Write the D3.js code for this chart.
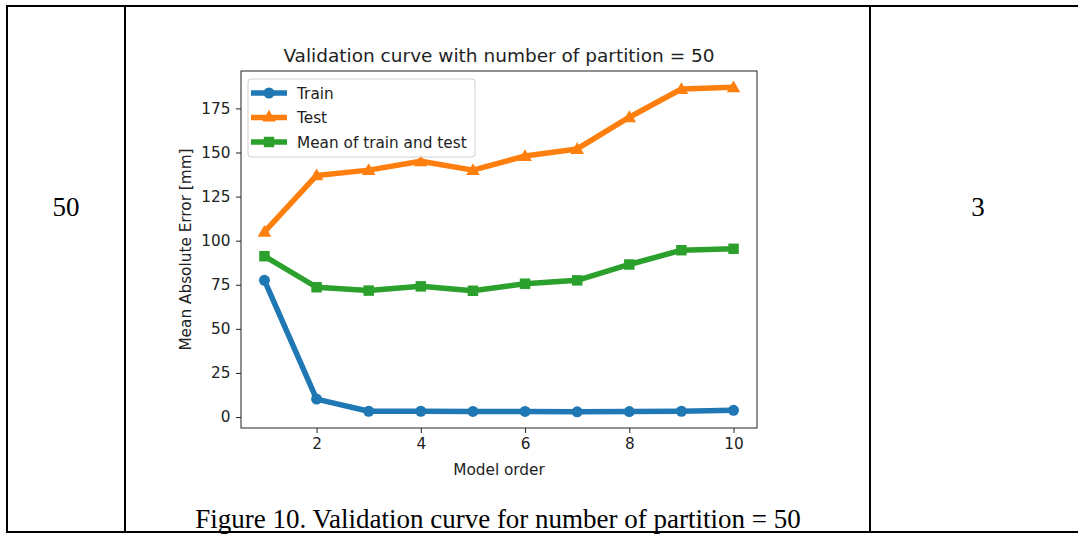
<!DOCTYPE html>
<html>
<head>
<meta charset="utf-8">
<script src="https://cdn.jsdelivr.net/npm/d3@7"></script>
<style>
  body { margin: 0; background: #fff; }
  svg { display: block; }
</style>
</head>
<body>
<script>
// chart data
const modelOrder = [1, 2, 3, 4, 5, 6, 7, 8, 9, 10];
const trainMAE = [77.5, 10.2, 3.3, 3.3, 3.2, 3.2, 3.0, 3.1, 3.3, 3.8];
const testMAE = [105, 137, 140, 145, 140, 148, 152, 170, 186, 187];
const meanMAE = [91.2, 73.6, 71.7, 74.1, 71.6, 75.6, 77.5, 86.5, 94.6, 95.4];
const xTicks = [2, 4, 6, 8, 10];
const yTicks = [0, 25, 50, 75, 100, 125, 150, 175];

const series = [
    {name: 'Train', values: trainMAE, color: '#1f77b4', marker: 'circle'},
    {name: 'Test', values: testMAE, color: '#ff7f0e', marker: 'triangle'},
    {name: 'Mean of train and test', values: meanMAE, color: '#2ca02c', marker: 'square'}
];

const W = 1078, H = 534;
const svg = d3.select('body').append('svg').attr('width', W).attr('height', H);

// table around the figure
const table = svg.append('g').attr('stroke', '#000').attr('stroke-width', 2);
table.append('line').attr('x1', 6).attr('x2', W).attr('y1', 6).attr('y2', 6);
table.append('line').attr('x1', 6).attr('x2', W).attr('y1', 532).attr('y2', 532);
[7, 125, 870].forEach(x => {
    table.append('line').attr('x1', x).attr('x2', x).attr('y1', 5).attr('y2', 533);
});

const serif = '"Liberation Serif", "Times New Roman", serif';
svg.append('text').attr('x', 66).attr('y', 216).attr('text-anchor', 'middle')
    .style('font-family', serif).style('font-size', '27px').text('50');
svg.append('text').attr('x', 978).attr('y', 216).attr('text-anchor', 'middle')
    .style('font-family', serif).style('font-size', '27px').text('3');
svg.append('text').attr('x', 498).attr('y', 528).attr('text-anchor', 'middle')
    .style('font-family', serif).style('font-size', '27px')
    .text('Figure 10. Validation curve for number of partition = 50');

// plot area
const pLeft = 241, pRight = 757, pTop = 71, pBottom = 428;
const sans = '"DejaVu Sans", sans-serif';

// matplotlib-like 5% margins
const allY = trainMAE.concat(testMAE, meanMAE);
const yMin = d3.min(allY), yMax = d3.max(allY);
const yPad = (yMax - yMin) * 0.05;
const xPad = (d3.max(modelOrder) - d3.min(modelOrder)) * 0.05;

const x = d3.scaleLinear()
    .domain([d3.min(modelOrder) - xPad, d3.max(modelOrder) + xPad])
    .range([pLeft, pRight]);
const y = d3.scaleLinear()
    .domain([yMin - yPad, yMax + yPad])
    .range([pBottom, pTop]);

const line = d3.line().x((d, i) => x(modelOrder[i])).y(d => y(d));

function markerSymbol(m) {
    if (m === 'circle') return d3.symbol(d3.symbolCircle, 95);
    if (m === 'square') return d3.symbol(d3.symbolSquare, 110);
    return d3.symbol(d3.symbolTriangle, 80);
}

const plot = svg.append('g');
series.forEach(s => {
    const g = plot.append('g');
    g.append('path').datum(s.values)
        .attr('d', line)
        .attr('fill', 'none')
        .attr('stroke', s.color)
        .attr('stroke-width', 5.5)
        .attr('stroke-linejoin', 'round')
        .attr('stroke-linecap', 'butt');
    const sym = markerSymbol(s.marker);
    g.selectAll('path.mk').data(s.values).enter().append('path')
        .attr('class', 'mk')
        .attr('d', sym)
        .attr('transform', (d, i) => `translate(${x(modelOrder[i])},${y(d) + (s.marker === 'triangle' ? 1 : 0)})`)
        .attr('fill', s.color);
});

// axes
const xAxis = svg.append('g')
    .attr('transform', `translate(0,${pBottom})`)
    .call(d3.axisBottom(x).tickValues(xTicks).tickSize(5).tickPadding(5).tickFormat(d3.format('d')));
const yAxis = svg.append('g')
    .attr('transform', `translate(${pLeft},0)`)
    .call(d3.axisLeft(y).tickValues(yTicks).tickSize(5).tickPadding(5.5).tickFormat(d3.format('d')));
[xAxis, yAxis].forEach(a => {
    a.select('.domain').remove();
    a.selectAll('line').attr('stroke', '#222').attr('stroke-width', 1);
    a.selectAll('text').style('font-family', sans).style('font-size', '15.3px').attr('fill', '#222');
});

// frame
svg.append('rect')
    .attr('x', pLeft).attr('y', pTop)
    .attr('width', pRight - pLeft).attr('height', pBottom - pTop)
    .attr('fill', 'none').attr('stroke', '#222').attr('stroke-width', 1);

// titles
svg.append('text').attr('x', (pLeft + pRight) / 2).attr('y', 62)
    .attr('text-anchor', 'middle').style('font-family', sans).style('font-size', '18.5px')
    .attr('fill', '#222').text('Validation curve with number of partition = 50');
svg.append('text').attr('x', (pLeft + pRight) / 2).attr('y', 475)
    .attr('text-anchor', 'middle').style('font-family', sans).style('font-size', '15.3px')
    .attr('fill', '#222').text('Model order');
svg.append('text')
    .attr('transform', `translate(191,${(pTop + pBottom) / 2}) rotate(-90)`)
    .attr('text-anchor', 'middle').style('font-family', sans).style('font-size', '15.3px')
    .attr('fill', '#222').text('Mean Absolute Error [mm]');

// legend
const legend = svg.append('g').attr('transform', 'translate(248,79)');
legend.append('rect')
    .attr('width', 227).attr('height', 78).attr('rx', 3)
    .attr('fill', '#fff').attr('fill-opacity', 0.8)
    .attr('stroke', '#d0d0d0').attr('stroke-width', 1);
series.forEach((s, i) => {
    const row = legend.append('g').attr('transform', `translate(0,${14 + i * 24.5})`);
    row.append('line').attr('x1', 3).attr('x2', 39).attr('y1', 0).attr('y2', 0)
        .attr('stroke', s.color).attr('stroke-width', 5.5);
    row.append('path').attr('d', markerSymbol(s.marker)).attr('transform', 'translate(21,0)').attr('fill', s.color);
    row.append('text').attr('x', 49).attr('y', 5.5)
        .style('font-family', sans).style('font-size', '15.3px').attr('fill', '#222')
        .text(s.name);
});
</script>
</body>
</html>
